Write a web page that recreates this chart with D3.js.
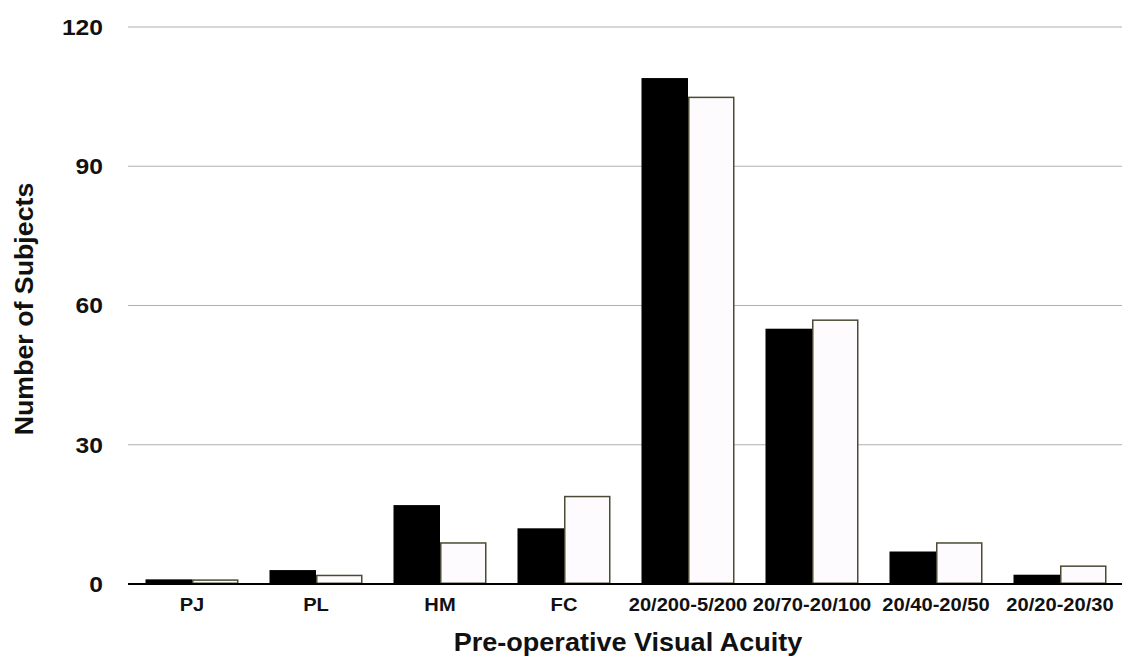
<!DOCTYPE html>
<html>
<head>
<meta charset="utf-8">
<script src="https://cdn.jsdelivr.net/npm/d3@7"></script>
<style>
  body { margin: 0; background: #fff; }
  svg { display: block; font-family: "Liberation Sans", Arial, Helvetica, sans-serif; }
</style>
</head>
<body>
<svg id="chart" width="1127" height="659"></svg>
<script>
const categories = ["PJ", "PL", "HM", "FC", "20/200-5/200", "20/70-20/100", "20/40-20/50", "20/20-20/30"];
const seriesA = [1, 3, 17, 12, 109, 55, 7, 2];
const seriesB = [1, 2, 9, 19, 105, 57, 9, 4];
const yTicks = [0, 30, 60, 90, 120];

(function () {
const svg = d3.select("#chart");
const mLeft = 130, mRight = 1122, mTop = 27, mBottom = 584;

const x = d3.scaleBand().domain(categories).range([mLeft, mRight]).paddingInner(0.25).paddingOuter(0.125);
const xs = d3.scaleBand().domain(["A", "B"]).range([0, x.bandwidth()]);
const y = d3.scaleLinear().domain([0, 120]).range([mBottom, mTop]);

// gridlines
svg.append("g").selectAll("line").data(yTicks.filter(d => d > 0)).join("line")
  .attr("x1", mLeft - 2).attr("x2", mRight)
  .attr("y1", d => y(d)).attr("y2", d => y(d))
  .attr("stroke", "#b0b0b0").attr("stroke-width", 1.2);

// y tick labels
svg.append("g").selectAll("text").data(yTicks).join("text")
  .attr("transform", d => `translate(103,${y(d)}) scale(1.12,1)`)
  .attr("dy", "0.36em")
  .attr("text-anchor", "end").attr("font-size", 22).attr("font-weight", "bold")
  .attr("fill", "#111").text(d => d);

const data = categories.map((c, i) => ({ c, a: seriesA[i], b: seriesB[i] }));

// series A (black)
svg.append("g").selectAll("rect").data(data).join("rect")
  .attr("x", d => x(d.c) + xs("A"))
  .attr("y", d => y(d.a))
  .attr("width", xs.bandwidth())
  .attr("height", d => y(0) - y(d.a))
  .attr("fill", "#000");

// series B (white with olive outline)
svg.append("g").selectAll("rect").data(data).join("rect")
  .attr("x", d => x(d.c) + xs("B") + 0.75)
  .attr("y", d => y(d.b) + 0.75)
  .attr("width", xs.bandwidth() - 1.5)
  .attr("height", d => Math.max(0, y(0) - y(d.b) - 1.5))
  .attr("fill", "#fdfbfd")
  .attr("stroke", "#4a4a35").attr("stroke-width", 1.5);

// baseline
svg.append("line").attr("x1", mLeft - 2).attr("x2", mRight)
  .attr("y1", y(0)).attr("y2", y(0)).attr("stroke", "#000").attr("stroke-width", 2);

// x labels
svg.append("g").selectAll("text").data(categories).join("text")
  .attr("transform", d => `translate(${x(d) + x.bandwidth() / 2},611) scale(1.06,1)`)
  .attr("text-anchor", "middle").attr("font-size", 19).attr("font-weight", "bold")
  .attr("fill", "#111").text(d => d);

// axis titles
svg.append("text").attr("transform", "translate(628,651) scale(1.04,1)")
  .attr("text-anchor", "middle").attr("font-size", 26).attr("font-weight", "bold")
  .attr("fill", "#111").text("Pre-operative Visual Acuity");

svg.append("text").attr("transform", "translate(33,309) rotate(-90) scale(1.07,1)")
  .attr("text-anchor", "middle").attr("font-size", 25).attr("font-weight", "bold")
  .attr("fill", "#111").text("Number of Subjects");
})();
</script>
</body>
</html>
